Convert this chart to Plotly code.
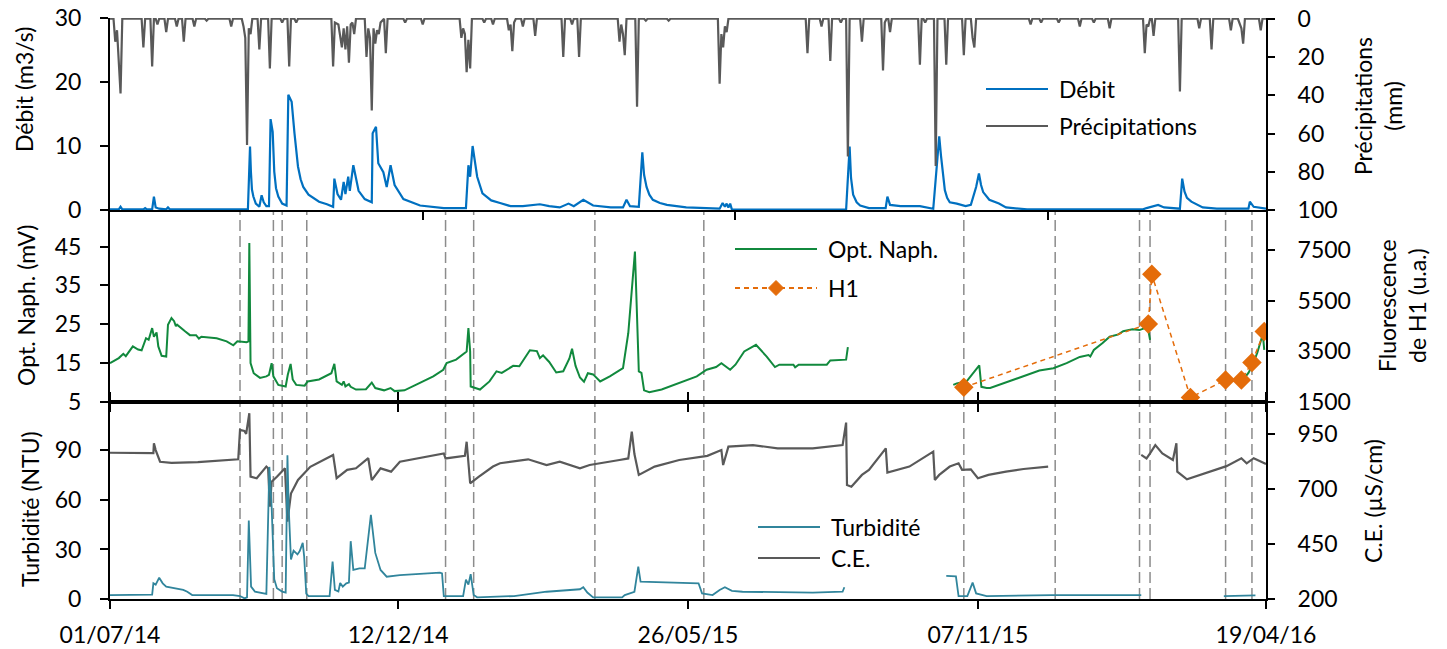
import pandas as pd
import plotly.graph_objects as go

START = "2014-07-01"
END = "2016-04-19"

date_ticks = ["2014-07-01", "2014-12-12", "2015-05-26", "2015-11-07", "2016-04-19"]
date_labels = ["01/07/14", "12/12/14", "26/05/15", "07/11/15", "19/04/16"]
top_ticks = ["2014-12-26", "2015-06-22", "2015-12-17"]

# sampling campaigns (dashed verticals)
sample_dates = [
    "2014-09-13", "2014-10-02", "2014-10-07", "2014-10-21", "2015-01-08",
    "2015-01-24", "2015-04-03", "2015-06-04", "2015-10-30", "2015-12-21",
    "2016-02-07", "2016-02-13", "2016-03-27", "2016-04-11",
]

# all daily series: days since START
precip_day = [
    0, 2, 3, 4, 6, 7,
    18, 19, 20, 23, 24, 25, 26, 27, 28,
    31, 32, 33, 37, 38, 39, 41, 42, 43,
    47, 48, 49, 54, 55, 56, 68, 69, 70,
    75, 76, 77, 78, 79, 80, 81, 84, 85, 86,
    90, 91, 92, 97, 98, 99, 101, 102, 103, 105, 106, 107,
    126, 127, 128, 130, 131, 132, 133, 134, 135, 136, 137, 138, 139, 140,
    145, 146, 147, 148, 149, 150, 151, 152, 153, 154, 156, 157, 158,
    167, 168, 169, 177, 178, 179,
    199, 200, 201, 202, 203, 204, 205, 206,
    212, 213, 214, 217, 218, 219,
    226, 227, 228, 229, 230, 231, 234, 235, 236, 241, 242, 243,
    257, 258, 259, 262, 263, 264, 266, 267, 268,
    289, 290, 291, 292, 293, 294, 299, 300, 301, 304, 305, 306, 317, 318, 319,
    346, 347, 348, 349, 350, 351, 352,
    396, 397, 398, 404, 405, 406, 409, 410, 411, 415, 416, 417,
    419, 420, 421, 427, 428, 429, 439, 440, 441, 442, 443, 444, 445,
    460, 461, 462, 463, 464, 465, 469, 470, 471, 475, 476, 477,
    485, 486, 487, 490, 491, 492, 493,
    523, 524, 525, 529, 530, 531, 539, 540, 541, 551, 552, 553,
    559, 560, 561, 568, 569, 570,
    588, 589, 590, 591, 592, 593, 594, 595,
    608, 609, 610, 619, 620, 621, 626, 627, 628,
    637, 638, 639, 642, 643, 644, 645, 646, 654, 655, 656, 658,
]
precip_mm = [
    0, 0, 12, 6, 39, 0,
    0, 15, 0, 0, 25, 0, 0, 3, 0,
    0, 7, 0, 0, 4, 0, 0, 12, 0,
    0, 4, 0, 0, 1, 0, 0, 4, 0,
    0, 4, 10, 66, 5, 8, 0, 0, 16, 0,
    0, 26, 0, 0, 2, 0, 0, 25, 0, 0, 2, 0,
    0, 25, 2, 3, 8, 15, 5, 16, 4, 23, 3, 2, 8, 0,
    0, 20, 5, 10, 48, 5, 13, 6, 8, 2, 0, 18, 0,
    0, 2, 0, 0, 3, 0,
    0, 10, 5, 8, 28, 11, 26, 0,
    0, 2, 0, 0, 3, 0,
    0, 6, 3, 17, 2, 0, 0, 4, 0, 0, 9, 0,
    0, 20, 0, 0, 3, 0, 0, 20, 0,
    0, 12, 3, 8, 19, 0, 0, 46, 0, 0, 1, 0, 0, 1, 0,
    0, 34, 8, 15, 4, 7, 0,
    0, 18, 0, 0, 4, 0, 0, 22, 0, 0, 2, 0,
    0, 72, 0, 0, 12, 0, 0, 27, 2, 0, 0, 7, 0,
    0, 24, 0, 0, 2, 0, 0, 77, 0, 0, 24, 0,
    0, 19, 0, 0, 10, 15, 0,
    0, 3, 0, 0, 2, 0, 0, 2, 0, 0, 4, 0,
    0, 2, 0, 0, 5, 0,
    0, 18, 3, 4, 0, 0, 9, 0,
    0, 38, 0, 0, 5, 0, 0, 16, 0,
    0, 6, 0, 0, 3, 5, 13, 0, 0, 6, 0, 0,
]

debit_day = [
    0, 5, 6, 7, 19, 20, 21, 24, 25, 26, 28, 32, 33, 34,
    78.5, 79.7, 80.2, 80.8, 81.6, 83, 85, 86.3, 87.5, 89, 90.5, 91.4, 92.6, 93.5, 94.5, 95.8, 98, 100.5,
    101.5, 103.4, 105, 107, 108.5, 110, 113, 115.7, 119, 123.5, 127,
    127.7, 129.5, 131.5, 133, 134, 135.6, 136.5, 138.5, 141.5, 145, 149,
    149.5, 151.4, 152.7, 155.6, 157.5, 159.7, 162, 167, 176.5, 190, 202.6,
    204, 205, 206.4, 209, 212, 217, 222, 228, 235, 244.7, 250, 256, 261, 264, 269.4, 275,
    285, 292, 294, 296, 301, 303, 304, 305.4, 307, 309, 313, 317, 328,
    347, 348.7, 350, 351, 352, 353, 354, 419, 421, 421.8, 423, 425, 427, 432, 441.5, 442.5, 444, 450, 461,
    468.6, 472, 473, 474, 475.2, 476.5, 478, 482, 487, 490, 493, 494.6, 495.8, 497, 500.5, 506, 510, 522,
    588, 590, 596.6, 600, 609, 610.3, 611, 611.6, 613, 615.5, 622, 630, 648, 648.8, 651, 658,
]
debit = [
    0.1, 0.1, 0.5, 0.1, 0.1, 0.3, 0.1, 0.1, 2.1, 0.4, 0.2, 0.1, 0.4, 0.1,
    0.1, 9.9, 6.0, 3.2, 2.1, 1.0, 0.5, 2.3, 1.2, 0.6, 0.6, 14.2, 12.2, 6.0, 3.4, 2.1, 1.0, 0.7,
    18.0, 16.9, 12.0, 6.8, 4.8, 3.6, 2.4, 1.9, 1.3, 0.9, 0.5,
    4.9, 2.5, 1.6, 4.4, 2.5, 5.2, 3.0, 7.0, 3.0, 1.7, 1.2,
    12.0, 13.0, 7.3, 5.9, 3.6, 7.0, 3.9, 1.7, 0.7, 0.3, 0.3,
    7.0, 5.2, 10.0, 5.2, 2.6, 1.5, 1.1, 0.6, 0.6, 0.9, 0.6, 0.4, 1.0, 0.6, 1.6, 0.7,
    0.4, 0.4, 1.6, 0.6, 0.5, 9.0, 5.5, 3.6, 2.4, 1.6, 1.1, 0.8, 0.4,
    0.2, 1.1, 0.5, 1.0, 0.4, 1.0, 0.05, 0.05, 9.9, 5.0, 2.4, 1.2, 0.7, 0.3, 0.3, 2.1, 0.8, 0.6, 0.6,
    0.2, 11.5, 8.5, 5.5, 3.1, 1.9, 1.2, 1.0, 0.6, 0.8, 3.6, 5.7, 3.9, 2.8, 1.6, 1.0, 0.4, 0.1,
    0.1, 0.3, 0.8, 0.4, 0.2, 4.9, 3.6, 2.9, 1.9, 1.3, 0.4, 0.2, 0.2, 1.3, 0.5, 0.2,
]

naph_day = [
    0, 5, 7.6, 9, 13, 16, 18, 20.5, 22, 24, 25, 26.5, 27.5, 29.4, 32, 33, 35, 36.5, 37.5, 38.2,
    42.7, 45.5, 49, 50.6, 52, 60.7, 66.4, 70.2, 72.5, 77.8, 78.8, 79.3, 80, 81.8, 85.4, 89, 90.5,
    92, 93, 95.8, 100, 101.2, 102.8, 104, 106, 110.8, 112.5, 119, 126, 127.7, 129, 132, 133, 134,
    136, 137, 140, 145.7, 149, 151, 156, 159.7, 162, 167.6, 176.4, 184, 189.7, 191.6, 197, 203,
    204, 205, 205.3, 210.6, 216, 220, 223, 229.5, 233, 239, 243, 244.7, 246.5, 250, 254, 258,
    261.5, 263, 265, 267.5, 269.8, 272, 275, 279, 284.5, 292, 295, 298.8, 301, 302.5, 304, 307,
    314, 324.4, 334, 339.6, 345, 348, 351, 353, 356, 361, 367.7, 373.8, 378.5, 381, 389, 390, 392,
    408, 410, 419, 420, 421,
    480, 482, 487.6, 491.5, 494.8, 496, 499, 501, 510, 520, 529, 537, 544.5, 552, 557, 558, 560,
    565, 569, 574, 576.7, 582, 586, 589, 591, 592, 593,
    636, 640, 645, 648, 650, 653, 655.5, 656.5, 657,
]
naph = [
    15.0, 16.3, 17.4, 16.8, 19.3, 18.5, 18.3, 21.4, 21.0, 24.0, 21.8, 22.9, 19.3, 16.9, 16.7, 24.9, 26.6, 25.8, 24.5, 24.9,
    23.2, 22.2, 22.2, 21.3, 21.8, 21.4, 20.6, 19.6, 20.6, 20.4, 20.6, 45.9, 15.0, 12.4, 11.2, 11.6, 12.0,
    15.0, 11.6, 9.4, 9.0, 12.0, 14.8, 10.8, 9.4, 9.2, 10.3, 10.8, 12.4, 14.8, 10.3, 9.4, 10.3, 9.0,
    9.6, 8.9, 8.2, 8.3, 10.0, 8.6, 8.0, 8.6, 7.8, 8.0, 9.9, 11.6, 13.3, 15.0, 15.9, 18.0,
    24.0, 18.0, 9.0, 8.2, 10.3, 12.9, 12.5, 14.3, 14.2, 18.3, 18.1, 16.3, 17.0, 15.3, 12.6, 12.9,
    16.2, 18.7, 14.3, 11.3, 10.2, 12.4, 12.1, 10.3, 11.6, 13.7, 22.7, 43.7, 12.9, 12.5, 8.0, 7.5,
    8.2, 9.9, 11.6, 13.3, 14.0, 15.0, 14.0, 13.3, 14.6, 18.0, 19.7, 16.7, 14.0, 14.6, 14.6, 13.9, 14.6,
    14.6, 15.7, 15.9, 19.1, None,
    9.4, 9.8, 10.3, 12.4, 14.4, 8.9, 8.6, 8.6, 10.0, 11.6, 13.1, 13.7, 15.0, 16.6, 17.1, 16.7, 18.4,
    20.2, 21.8, 22.4, 23.2, 23.7, 23.5, 24.0, 23.5, 21.0, None,
    10.3, 10.6, 10.8, 12.5, 14.2, 17.6, 21.4, 21.0, 18.4,
]

h1_dates = ["2015-10-30", "2016-02-12", "2016-02-14", "2016-03-07",
            "2016-03-27", "2016-04-05", "2016-04-11", "2016-04-18"]
h1_values = [2080, 4580, 6540, 1680, 2370, 2370, 3060, 4280]

turb_day = [
    0, 24, 24.7, 26, 28, 30, 32, 38, 41.7, 44, 46.8, 70, 74, 76.6, 78, 79, 80.3, 82.5, 89,
    90.7, 92, 93.5, 95, 98, 100, 101, 101.7, 103, 104.5, 106.7, 108, 109.7, 110.5, 111.7, 113,
    125, 126.7, 128, 130, 131, 132.5, 134.5, 136, 137, 138.5, 142, 145, 148.5, 151, 154, 157.5,
    165, 175, 187.8, 189, 190, 201, 202.6, 204, 205.3, 207, 209, 230, 248.5, 267.5, 269.4, 271.7,
    275, 291.5, 293, 298.5, 300.7, 302, 314, 335, 337, 343, 347, 350, 354, 360, 400, 417, 418, 419,
    476, 481.5, 483, 488, 491, 493, 499, 536, 587, 588,
    634, 652,
]
turb = [
    2.4, 2.7, 9.5, 8.7, 12.9, 9.5, 7.5, 6.5, 5.5, 4.4, 2.4, 2.4, 1.8, 0.4, 1.0, 47.5, 7.5, 4.5, 3.1,
    80.0, 56.0, 12.0, 6.5, 4.5, 3.9, 87.0, 56.0, 24.0, 29.3, 27.0, 29.0, 34.0, 26.0, 3.3, 1.8,
    1.8, 22.6, 5.5, 4.5, 9.7, 7.5, 9.5, 10.0, 35.0, 17.6, 18.5, 18.5, 51.0, 27.9, 17.6, 13.5,
    14.5, 15.1, 16.0, 15.5, 1.8, 1.8, 11.7, 8.7, 15.1, 2.4, 1.0, 1.8, 4.4, 5.9, 7.1, 3.9,
    1.0, 1.0, 2.4, 4.4, 19.6, 10.5, 10.1, 9.5, 3.4, 2.4, 5.5, 7.1, 4.9, 4.4, 3.9, 4.4, 7.1, None,
    14.0, 13.7, 1.8, 1.8, 9.9, 3.4, 1.8, 2.4, 2.4, None,
    1.8, 2.2,
]

ce_day = [
    0, 10, 24.7, 25, 26, 28.5, 35, 50, 73, 74, 76.5, 77.5, 79.3, 80, 83.5, 89, 90, 91, 92, 95,
    99.6, 101, 103, 107, 114, 127, 129, 135, 140, 147, 149, 154, 160, 165, 180, 190, 191, 202,
    203, 205, 210, 218, 222, 229.5, 238, 248.5, 256, 267.5, 273, 290, 295, 297, 298.5, 301, 310,
    324, 340, 348, 349, 352, 366, 380, 400, 417, 419, 419.5, 422, 428, 432, 441.6, 442.5, 455,
    468.6, 469.5, 472, 478, 483, 485, 490, 494, 500, 510, 520, 534, 535,
    587, 590, 592, 595, 599, 605, 607, 607.5, 613, 626, 635.5, 644, 647, 651, 658,
]
ce = [
    866, 864, 864, 909, 878, 825, 820, 823, 836, 970, 965, 952, 1046, 757, 750, 803, 795, 620, 734, 757,
    795, 552, 680, 742, 802, 856, 750, 788, 795, 841, 741, 795, 780, 825, 848, 863, 840, 852,
    916, 727, 757, 803, 818, 825, 836, 810, 825, 795, 810, 833, 840, 962, 860, 765, 803,
    833, 852, 878, 810, 894, 901, 886, 886, 901, 1003, 719, 711, 765, 788, 886, 776, 803,
    871, 742, 765, 803, 818, 788, 790, 750, 765, 780, 792, 803, None,
    856, 840, 863, 901, 863, 833, 909, 780, 745, 780, 805, 841, 818, 841, 815,
]

for a, b in [(precip_day, precip_mm), (debit_day, debit), (naph_day, naph),
             (turb_day, turb), (ce_day, ce)]:
    assert len(a) == len(b), (len(a), len(b))


def as_dates(days):
    return pd.Timestamp(START) + pd.to_timedelta(days, unit="D")


# pixel frame of the reference
W, H = 1447, 649
L, R, T, B = 110, 181, 18, 50
PW, PH = W - L - R, H - T - B


def fx(x):
    return (x - L) / PW


def fy(y):
    return (H - B - y) / PH


FONT = "Lato"
BLUE, GREY, GREEN, ORANGE, TEAL = "#0070C0", "#595959", "#11893D", "#E46C0A", "#31859C"
D1, D2 = fy(210), fy(402)

fig = go.Figure()
fig.add_trace(go.Scatter(x=as_dates(debit_day), y=debit, mode="lines",
                         line=dict(color=BLUE, width=2.2), xaxis="x", yaxis="y"))
fig.add_trace(go.Scatter(x=as_dates(precip_day), y=precip_mm, mode="lines",
                         line=dict(color=GREY, width=2.2), xaxis="x", yaxis="y2"))
fig.add_trace(go.Scatter(x=as_dates(naph_day), y=naph, mode="lines",
                         line=dict(color=GREEN, width=2), xaxis="x2", yaxis="y3"))
fig.add_trace(go.Scatter(x=h1_dates, y=h1_values, mode="lines+markers",
                         line=dict(color=ORANGE, width=1.5, dash="5px,4px"),
                         marker=dict(symbol="diamond", size=15, color=ORANGE),
                         xaxis="x2", yaxis="y4"))
fig.add_trace(go.Scatter(x=as_dates(ce_day), y=ce, mode="lines",
                         line=dict(color=GREY, width=2.2), xaxis="x3", yaxis="y5"))
fig.add_trace(go.Scatter(x=as_dates(turb_day), y=turb, mode="lines",
                         line=dict(color=TEAL, width=1.8), xaxis="x3", yaxis="y6"))

for d in sample_dates:
    fig.add_shape(type="line", xref="x2", yref="paper", x0=d, x1=d, y0=0, y1=D1,
                  line=dict(color="#8C8C8C", width=1.5, dash="11px,5px"), layer="below")

tickfont = dict(family=FONT, size=23, color="black")
xcommon = dict(type="date", range=[START, END], showgrid=False, zeroline=False,
               showline=True, linecolor="black", linewidth=2, ticks="outside",
               ticklen=8, tickwidth=1.5, tickcolor="black", tickfont=tickfont,
               automargin=False)
ycommon = dict(showgrid=False, zeroline=False, showline=True, linecolor="black",
               linewidth=2, ticks="outside", ticklen=8, tickwidth=1.5, tickcolor="black",
               tickfont=tickfont, tickmode="array", automargin=False)
left = dict(ycommon, ticklabelstandoff=14)
right = dict(ycommon, side="right", ticklen=7, ticklabelstandoff=18)

fig.update_layout(
    width=W, height=H, autosize=False,
    margin=dict(l=L, r=R, t=T, b=B),
    paper_bgcolor="white", plot_bgcolor="rgba(0,0,0,0)",
    showlegend=False,
    xaxis=dict(xcommon, domain=[0, 1], anchor="y", tickvals=top_ticks, showticklabels=False),
    xaxis2=dict(xcommon, domain=[0, 1], anchor="y3", tickvals=date_ticks, showticklabels=False),
    xaxis3=dict(xcommon, domain=[0, 1], anchor="y5", tickvals=date_ticks, ticktext=date_labels,
                mirror="ticks", ticklabelstandoff=6),
    yaxis=dict(left, domain=[D1, 1], anchor="x", range=[0, 30], tickvals=[0, 10, 20, 30]),
    yaxis2=dict(right, overlaying="y", anchor="x", range=[100, -0.4],
                tickvals=[0, 20, 40, 60, 80, 100]),
    yaxis3=dict(left, domain=[D2, D1], anchor="x2", range=[5, 54.4],
                tickvals=[5, 15, 25, 35, 45]),
    yaxis4=dict(right, overlaying="y3", anchor="x2", range=[1500, 9080],
                tickvals=[1500, 3500, 5500, 7500]),
    yaxis5=dict(right, domain=[0, D2], anchor="x3", range=[200, 1097],
                tickvals=[200, 450, 700, 950]),
    yaxis6=dict(left, overlaying="y5", side="left", anchor="x3", range=[0, 119.3],
                tickvals=[0, 30, 60, 90]),
)

# axis titles
titles = [
    ("Débit (m3/s)", 24, 90),
    ("Opt. Naph. (mV)", 26, 306),
    ("Turbidité (NTU)", 30, 509),
    ("Précipitations<br>(mm)", 1378, 106),
    ("Fluorescence<br>de H1 (u.a.)", 1402, 306),
    ("C.E. (µS/cm)", 1373, 501),
]
for text, x, y in titles:
    fig.add_annotation(text=text, x=fx(x), y=fy(y), xref="paper", yref="paper",
                       textangle=-90, showarrow=False, xanchor="center", yanchor="middle",
                       font=dict(family=FONT, size=23, color="black"))

# hand-placed legends, one per panel
legend_items = [
    ("Débit", BLUE, "solid", 986, 1048, 89),
    ("Précipitations", GREY, "solid", 986, 1048, 126),
    ("Opt. Naph.", GREEN, "solid", 735, 817, 249),
    ("H1", ORANGE, "5px,4px", 735, 817, 288),
    ("Turbidité", TEAL, "solid", 758, 820, 527),
    ("C.E.", GREY, "solid", 758, 820, 558),
]
for text, color, dash, x0, x1, y in legend_items:
    fig.add_shape(type="line", xref="paper", yref="paper", x0=fx(x0), x1=fx(x1),
                  y0=fy(y), y1=fy(y), line=dict(color=color, width=2.2, dash=dash))
    fig.add_annotation(text=text, x=fx(x1 + 9), y=fy(y), xref="paper", yref="paper",
                       showarrow=False, xanchor="left", yanchor="middle",
                       font=dict(family=FONT, size=23, color="black"))
cx, cy, s = 776, 288, 7.5
fig.add_shape(type="path", xref="paper", yref="paper", fillcolor=ORANGE,
              line=dict(color=ORANGE, width=1),
              path=(f"M{fx(cx - s)},{fy(cy)} L{fx(cx)},{fy(cy - s)} "
                    f"L{fx(cx + s)},{fy(cy)} L{fx(cx)},{fy(cy + s)} Z"))

# the page body has a default 8px margin; drop it so the figure fills the window
fig.write_html("out.html", config={"displayModeBar": False},
               post_script="document.body.style.margin = '0';")
